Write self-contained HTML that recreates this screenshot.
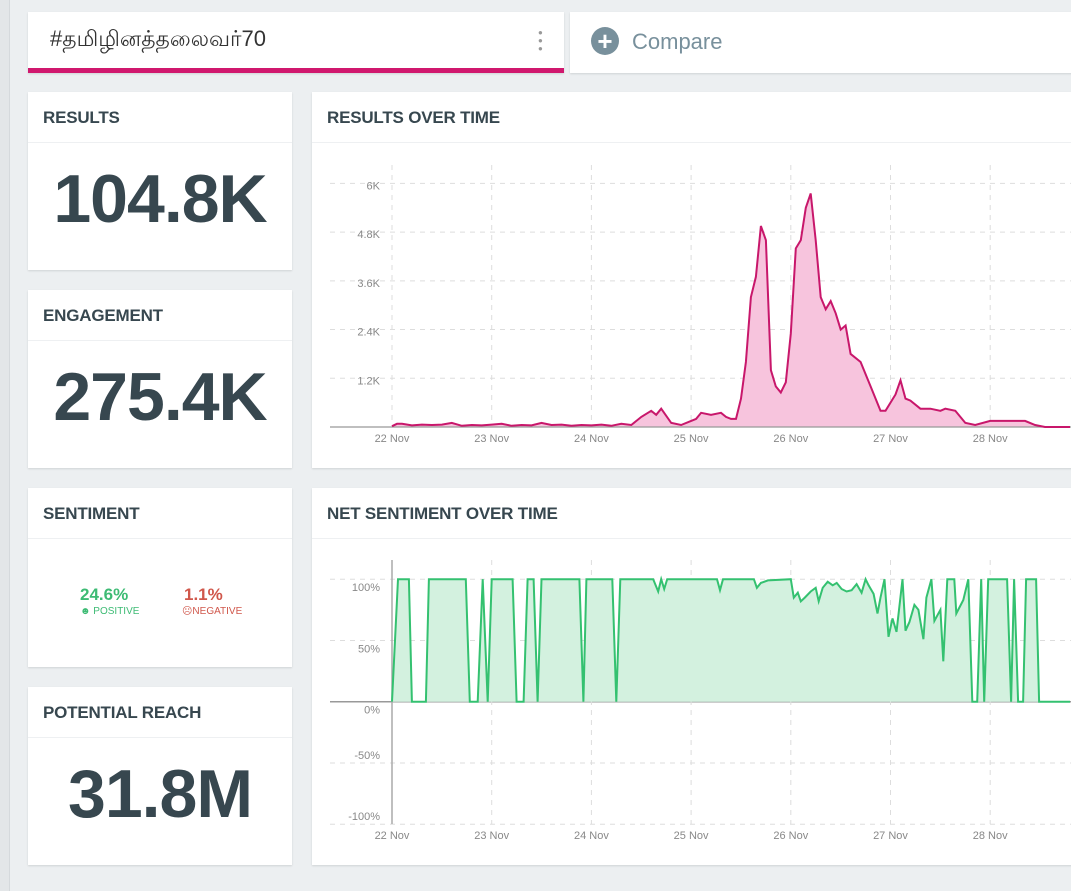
<!DOCTYPE html>
<html><head><meta charset="utf-8">
<style>
body{margin:0;width:1071px;height:891px;overflow:hidden;background:#eceff1;font-family:"Liberation Sans",sans-serif;position:relative}
.card{position:absolute;background:#fff;box-shadow:0 1px 2px rgba(0,0,0,.12)}
.hd{position:absolute;left:0;top:0;right:0;height:50px;border-bottom:1px solid #eef0f2;font-weight:bold;font-size:17px;color:#37474f;line-height:52px;padding-left:15px;letter-spacing:-.2px}
.big{position:absolute;left:0;right:0;top:68px;text-align:center;font-weight:bold;font-size:68px;color:#37474f;letter-spacing:-1px}
svg text{font-family:"Liberation Sans",sans-serif}
</style></head><body>
<div style="position:absolute;left:0;top:0;width:9px;height:891px;background:#e3e6e8;border-right:1px solid #d5d9dc"></div>
<div class="card" style="left:28px;top:12px;width:536px;height:61px">
  <div style="position:absolute;left:22px;top:14px;font-size:22px;color:#333;font-family:'Liberation Sans','Noto Sans CJK JP',sans-serif">#தமிழினத்தலைவர்70</div>
  <div style="position:absolute;left:510px;top:17px;width:4px;color:#999;font-size:8px;line-height:8px">●<br>●<br>●</div>
  <div style="position:absolute;left:0;right:0;bottom:0;height:5px;background:#d0186e"></div>
</div>
<div class="card" style="left:570px;top:12px;width:510px;height:61px">
  <div style="position:absolute;left:21px;top:15px;width:28px;height:28px;border-radius:50%;background:#78909c;color:#fff;font-size:26px;line-height:28px;text-align:center;font-weight:bold">+</div>
  <div style="position:absolute;left:62px;top:17px;font-size:22px;color:#78909c">Compare</div>
</div>

<div class="card" style="left:28px;top:92px;width:264px;height:178px"><div class="hd">RESULTS</div><div class="big">104.8K</div></div>
<div class="card" style="left:28px;top:290px;width:264px;height:178px"><div class="hd">ENGAGEMENT</div><div class="big">275.4K</div></div>
<div class="card" style="left:28px;top:488px;width:264px;height:179px"><div class="hd">SENTIMENT</div>
  <div style="position:absolute;left:52px;top:97px;font-size:17px;font-weight:bold;color:#3dbb74">24.6%</div>
  <div style="position:absolute;left:52px;top:118px;font-size:10px;color:#3dbb74">☻ POSITIVE</div>
  <div style="position:absolute;left:156px;top:97px;font-size:17px;font-weight:bold;color:#d0574b">1.1%</div>
  <div style="position:absolute;left:154px;top:118px;font-size:10px;color:#d0574b">☹NEGATIVE</div>
</div>
<div class="card" style="left:28px;top:687px;width:264px;height:178px"><div class="hd">POTENTIAL REACH</div><div class="big">31.8M</div></div>

<div class="card" style="left:312px;top:92px;width:770px;height:376px"><div class="hd">RESULTS OVER TIME</div></div>
<div class="card" style="left:312px;top:488px;width:770px;height:377px"><div class="hd">NET SENTIMENT OVER TIME</div></div>

<svg id="c1" style="position:absolute;left:0;top:0" width="1071" height="891"></svg>

<script>
// Results over time (days since 22 Nov, values in K)
const rDays=[0,0.05,0.1,0.2,0.3,0.4,0.5,0.6,0.7,0.8,0.9,1.0,1.1,1.2,1.3,1.4,1.5,1.6,1.7,1.8,1.9,2.0,2.1,2.2,2.3,2.4,2.5,2.6,2.65,2.7,2.8,2.9,3.0,3.05,3.1,3.2,3.3,3.35,3.4,3.45,3.5,3.55,3.6,3.65,3.7,3.75,3.8,3.85,3.9,3.95,4.0,4.05,4.1,4.15,4.2,4.25,4.3,4.35,4.4,4.45,4.5,4.55,4.6,4.7,4.8,4.9,4.95,5.0,5.05,5.1,5.15,5.2,5.3,5.4,5.5,5.55,5.65,5.75,5.85,6.0,6.1,6.2,6.35,6.45,6.55,6.8];
const rVals=[0.02,0.08,0.08,0.04,0.06,0.05,0.06,0.1,0.03,0.05,0.04,0.06,0.08,0.03,0.05,0.04,0.1,0.05,0.06,0.03,0.05,0.04,0.06,0.03,0.08,0.05,0.25,0.4,0.3,0.45,0.1,0.05,0.15,0.2,0.35,0.3,0.35,0.25,0.2,0.2,0.7,1.6,3.2,3.7,4.95,4.6,1.4,1.0,0.85,1.1,2.3,4.4,4.6,5.4,5.75,4.6,3.2,2.9,3.1,2.8,2.4,2.5,1.8,1.6,1.0,0.4,0.4,0.6,0.8,1.15,0.7,0.65,0.45,0.45,0.4,0.45,0.4,0.1,0.05,0.15,0.15,0.15,0.15,0.05,0.0,0.0];
const rTicks=[1.2,2.4,3.6,4.8,6];
const rTickLabels=["1.2K","2.4K","3.6K","4.8K","6K"];
const dayLabels=["22 Nov","23 Nov","24 Nov","25 Nov","26 Nov","27 Nov","28 Nov"];
// Net sentiment (days since 22 Nov, percent)
const sDays=[0,0.06,0.17,0.2,0.34,0.37,0.74,0.78,0.86,0.91,0.96,1.0,1.21,1.25,1.32,1.36,1.42,1.46,1.5,1.88,1.92,1.95,2.21,2.25,2.29,2.62,2.67,2.7,2.73,2.76,3.26,3.29,3.32,3.63,3.66,3.7,3.77,4.0,4.03,4.07,4.1,4.14,4.2,4.25,4.28,4.32,4.37,4.42,4.46,4.51,4.56,4.61,4.66,4.71,4.75,4.78,4.83,4.87,4.9,4.94,4.98,5.02,5.06,5.12,5.15,5.19,5.24,5.28,5.33,5.36,5.41,5.44,5.5,5.53,5.57,5.64,5.66,5.73,5.78,5.82,5.87,5.91,5.94,5.98,6.17,6.21,6.24,6.28,6.33,6.36,6.46,6.49,6.8];
const sVals=[0,100,100,0,0,100,100,0,0,100,0,100,100,0,0,100,100,0,100,100,0,100,100,0,100,100,90,100,92,100,100,91,100,100,93,97,99,100,85,89,82,85,90,93,82,93,98,95,97,92,90,91,96,89,100,95,88,72,85,100,53,68,57,100,58,65,79,75,51,85,100,66,75,33,100,100,72,83,100,0,0,100,0,100,100,0,100,0,0,100,100,0,0];
const sTicks=[-100,-50,0,50,100];
const sTickLabels=["-100%","-50%","0%","50%","100%"];

const NS="http://www.w3.org/2000/svg";
const svg=document.getElementById('c1');
function mk(t,a){const e=document.createElementNS(NS,t);for(const k in a)e.setAttribute(k,a[k]);svg.appendChild(e);return e;}
const x=d=>392+d*99.7;
const yR=v=>427-v*40.6;
const yS=v=>701.7-v*1.225;

rTicks.forEach((t,i)=>{
  const g=mk('line',{x1:330,x2:1071,y1:yR(t),y2:yR(t),stroke:'#ddd','stroke-dasharray':'5,5'});
  
  
  const l=mk('text',{x:380,y:yR(t)+6,'text-anchor':'end','font-size':11,fill:'#888'});
  l.textContent=rTickLabels[i];
  
  
});
dayLabels.forEach((d,i)=>{
  const g=mk('line',{x1:x(i),x2:x(i),y1:165,y2:427,stroke:'#ddd','stroke-dasharray':'5,5'});
  
  
  const l=mk('text',{x:x(i),y:442,'text-anchor':'middle','font-size':11,fill:'#888'});
  l.textContent=d;
  
  
});
let rp=rDays.map((d,i)=>x(d).toFixed(1)+','+yR(rVals[i]).toFixed(1)).join(' L');
const ra=mk('path',{d:'M'+x(rDays[0])+','+yR(0)+' L'+rp+' L'+x(rDays[rDays.length-1])+','+yR(0)+'Z',fill:'#f7c4dd'});


const rb=mk('line',{x1:330,x2:1071,y1:427,y2:427,stroke:'#999','stroke-width':1.2});


const rl=mk('path',{d:'M'+rp,fill:'none',stroke:'#c8176b','stroke-width':2});



sTicks.forEach((t,i)=>{
  const g=mk('line',{x1:330,x2:1071,y1:yS(t),y2:yS(t),stroke:t===0?'#999':'#ddd','stroke-dasharray':t===0?'':'5,5','stroke-width':t===0?1.5:1});
  
  
  const l=mk('text',{x:380,y:t<0?yS(t)-4:yS(t)+12,'text-anchor':'end','font-size':11,fill:'#888'});
  l.textContent=sTickLabels[i];
  
  
});
dayLabels.forEach((d,i)=>{
  const g=mk('line',{x1:x(i),x2:x(i),y1:560,y2:824,stroke:'#ddd','stroke-dasharray':'5,5'});
  
  
  const l=mk('text',{x:x(i),y:839,'text-anchor':'middle','font-size':11,fill:'#888'});
  l.textContent=d;
  
  
});
const ax=mk('line',{x1:392,x2:392,y1:560,y2:824,stroke:'#aaa','stroke-width':1.5});


let sp=sDays.map((d,i)=>x(d).toFixed(1)+','+yS(sVals[i]).toFixed(1)).join(' L');
const sa=mk('path',{d:'M'+x(sDays[0])+','+yS(0)+' L'+sp+' L'+x(sDays[sDays.length-1])+','+yS(0)+'Z',fill:'#d3f1df'});


const sl=mk('path',{d:'M'+sp,fill:'none',stroke:'#34c170','stroke-width':2});


</script>
</body></html>
